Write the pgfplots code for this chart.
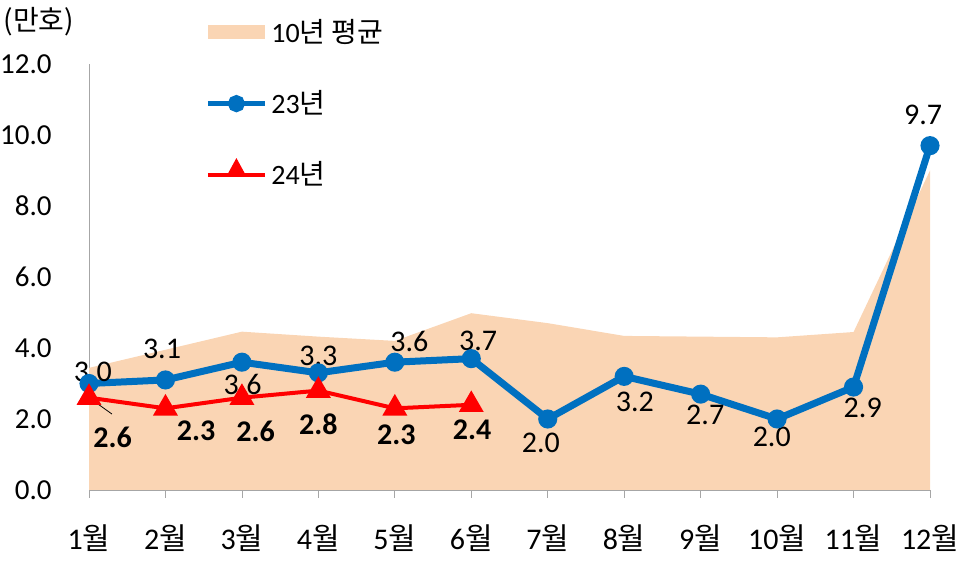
\documentclass[border=0pt]{standalone}
\usepackage{fontspec}
\setmainfont{Carlito}
\newfontfamily\kr{Noto Sans CJK KR}
\usepackage{pgfplots}
\pgfplotsset{compat=1.18}
\definecolor{peach}{RGB}{250,213,180}
\definecolor{cblue}{RGB}{0,112,192}
\definecolor{cred}{RGB}{255,0,0}
\pgfplotstableread{
m avg
1 3.44
2 3.95
3 4.46
4 4.32
5 4.20
6 4.98
7 4.70
8 4.34
9 4.32
10 4.30
11 4.45
12 9.00
}\avgtab
\pgfplotstableread{
m v
1 3.0
2 3.1
3 3.6
4 3.3
5 3.6
6 3.7
7 2.0
8 3.2
9 2.7
10 2.0
11 2.9
12 9.7
}\bluetab
\pgfplotstableread{
m v
1 2.6
2 2.3
3 2.6
4 2.8
5 2.3
6 2.4
}\redtab
\begin{document}
\begin{tikzpicture}
\begin{axis}[
  scale only axis, width=420.5pt, height=213pt,
  xmin=1, xmax=12, ymin=0, ymax=12,
  axis x line=bottom, axis y line=left,
  axis line style={gray!70, -},
  xtick={1,...,12},
  xticklabels={1{\kr 월},2{\kr 월},3{\kr 월},4{\kr 월},5{\kr 월},6{\kr 월},7{\kr 월},8{\kr 월},9{\kr 월},10{\kr 월},11{\kr 월},12{\kr 월}},
  xtick align=outside, major tick length=4pt,
  x tick style={gray!70, thin},
  ytick={0,2,...,12}, y tick style={draw=none},
  y tick label style={/pgf/number format/fixed, /pgf/number format/fixed zerofill, /pgf/number format/precision=1, xshift=-16.5pt},
  /pgf/number format/assume math mode=true,
  tick label style={font=\fontsize{14.5}{16}\selectfont, inner sep=0pt},
  x tick label style={yshift=-13pt, font=\fontsize{15}{16}\selectfont},
  clip=false,
  legend style={at={(rel axis cs:0.138,1.115)}, anchor=north west, draw=none, fill=none,
    font=\fontsize{14}{16}\selectfont, row sep=18.5pt, inner sep=0pt},
  legend cell align=left,
]
\addplot[fill=peach, draw=none, area legend,
  legend image code/.code={\fill[peach] (0cm,-0.12cm) rectangle (1cm,0.14cm);}]
  table[x=m, y=avg]{\avgtab} \closedcycle;
\addlegendentry{10{\kr 년 평균}}
\addplot[cblue, line width=3.5pt, mark=*, mark size=3pt, mark options={solid},
  legend image code/.code={\draw[line width=2.5pt] (0cm,0cm) -- (1cm,0cm); \fill (0.5cm,0cm) circle (2.5pt);}]
  table[x=m, y=v]{\bluetab};
\addlegendentry{23{\kr 년}}
\addplot[cred, line width=2pt, mark=triangle*, mark size=5.2pt, mark options={solid},
  legend image code/.code={\draw[line width=2pt] (0cm,0cm) -- (1cm,0cm); \fill (0.5cm,0.22cm) -- (0.38cm,0cm) -- (0.62cm,0cm) -- cycle;}]
  table[x=m, y=v]{\redtab};
\addlegendentry{24{\kr 년}}
% blue labels
\begin{scope}[every node/.style={font=\fontsize{15}{16}\selectfont, inner sep=0pt}]
\node at (axis cs:1.05,3.32) {3.0};
\node at (axis cs:1.955,3.97) {3.1};
\node at (axis cs:3.01,2.96) {3.6};
\node at (axis cs:4.0,3.77) {3.3};
\node at (axis cs:5.19,4.17) {3.6};
\node at (axis cs:6.09,4.20) {3.7};
\node at (axis cs:6.91,1.32) {2.0};
\node at (axis cs:8.14,2.48) {3.2};
\node at (axis cs:9.06,2.11) {2.7};
\node at (axis cs:9.93,1.49) {2.0};
\node at (axis cs:11.12,2.31) {2.9};
\node at (axis cs:11.91,10.56) {9.7};
\end{scope}
\begin{scope}[every node/.style={font=\fontsize{15}{16}\selectfont\bfseries, inner sep=0pt}]
\node at (axis cs:1.31,1.49) {2.6};
\node at (axis cs:2.40,1.66) {2.3};
\node at (axis cs:3.18,1.66) {2.6};
\node at (axis cs:4.0,1.86) {2.8};
\node at (axis cs:5.02,1.55) {2.3};
\node at (axis cs:6.01,1.69) {2.4};
\end{scope}
\draw[black, thin] (axis cs:1.04,2.54) -- (axis cs:1.30,2.14);
\node[font=\fontsize{14}{16}\selectfont\kr, anchor=west, inner sep=0pt] at (rel axis cs:-0.102,1.1) {(만호)};
\path (rel axis cs:-0.10583,-0.1784) rectangle (rel axis cs:1.03567,1.1502);
\end{axis}
\end{tikzpicture}
\end{document}
